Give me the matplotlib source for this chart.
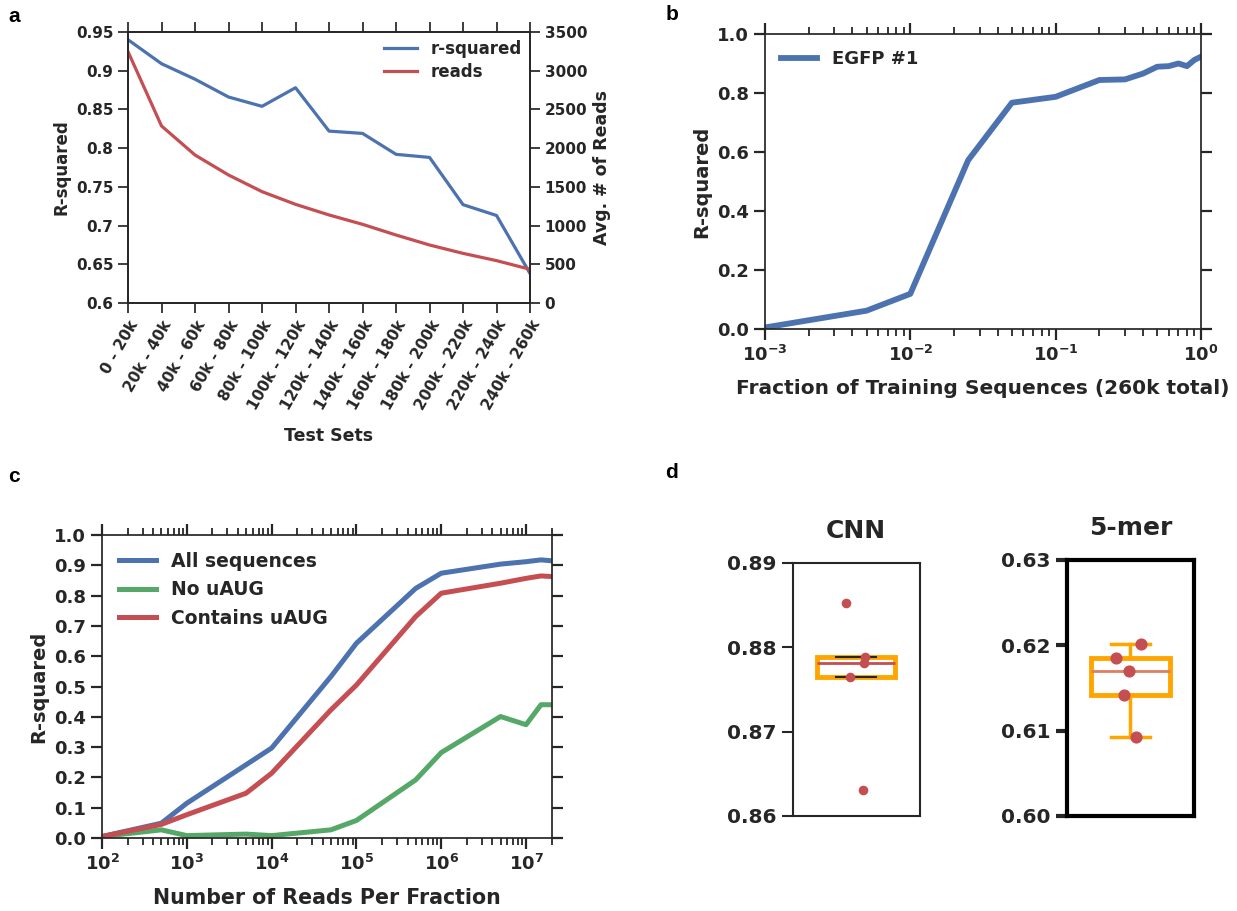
import numpy as np
import matplotlib
matplotlib.use("Agg")
from matplotlib import pyplot as plt
import matplotlib.ticker as mticker

plt.rcParams['font.family'] = 'DejaVu Sans'
plt.rcParams['font.weight'] = 'bold'
plt.rcParams['axes.labelweight'] = 'bold'
plt.rcParams['axes.titleweight'] = 'bold'
plt.rcParams['mathtext.default'] = 'regular'
dark = '#262626'
for k in ['axes.edgecolor', 'xtick.color', 'ytick.color', 'text.color', 'axes.labelcolor']:
    plt.rcParams[k] = dark
plt.rcParams['xtick.direction'] = 'out'
plt.rcParams['ytick.direction'] = 'out'
plt.rcParams['axes.linewidth'] = 1.25

blue = '#4c72b0'
red = '#c44e52'
green = '#55a868'
orange = '#ffa500'

# panel a
test_sets = ['0 - 20k', '20k - 40k', '40k - 60k', '60k - 80k', '80k - 100k',
             '100k - 120k', '120k - 140k', '140k - 160k', '160k - 180k',
             '180k - 200k', '200k - 220k', '220k - 240k', '240k - 260k']
rsq_a = [0.940, 0.909, 0.889, 0.866, 0.854, 0.878, 0.822, 0.819, 0.792,
         0.788, 0.727, 0.713, 0.638]
reads_a = [3245, 2286, 1911, 1653, 1438, 1274, 1137, 1016, 878, 749, 641, 547, 435]

# panel b
frac_b = [0.001, 0.005, 0.01, 0.025, 0.05, 0.1, 0.2, 0.3, 0.4, 0.5, 0.6,
          0.7, 0.8, 0.9, 1.0]
egfp_b = [0.005, 0.062, 0.119, 0.572, 0.767, 0.787, 0.844, 0.846, 0.866,
          0.889, 0.891, 0.900, 0.891, 0.912, 0.923]

# panel c
n_reads = [1e2, 5e2, 1e3, 5e3, 1e4, 5e4, 1e5, 5e5, 1e6, 5e6, 1e7, 1.5e7, 2e7]
all_seq = [0.005, 0.049, 0.115, 0.242, 0.297, 0.533, 0.643, 0.824, 0.874,
           0.904, 0.912, 0.918, 0.915]
no_uaug = [0.005, 0.027, 0.008, 0.013, 0.008, 0.027, 0.058, 0.192, 0.282,
           0.401, 0.374, 0.440, 0.440]
with_uaug = [0.005, 0.045, 0.077, 0.148, 0.214, 0.423, 0.505, 0.731, 0.808,
             0.841, 0.857, 0.865, 0.863]

# panel d
cnn_r2 = [0.88525, 0.8788, 0.8781, 0.87647, 0.8631]
kmer_r2 = [0.62012, 0.61855, 0.6170, 0.61414, 0.6093]
cnn_jitter = [-0.078, 0.067, 0.059, -0.050, 0.053]
kmer_jitter = [0.081, -0.114, -0.012, -0.048, 0.046]

fig = plt.figure(figsize=(12.37, 9.11), dpi=100)

g = mticker.FuncFormatter(lambda v, p: '%g' % v)

# ---- a
ax = fig.add_axes([0.1035, 0.6674, 0.3250, 0.2975])
x = np.arange(len(test_sets))
la, = ax.plot(x, rsq_a, color=blue, lw=2.3, label='r-squared')
ax.set_xlim(0, 12)
ax.set_ylim(0.6, 0.95)
ax.set_yticks(np.arange(0.6, 0.951, 0.05))
ax.yaxis.set_major_formatter(g)
ax.set_xticks(x)
ax.set_xticklabels(test_sets, rotation=60, ha='right', rotation_mode='anchor')
ax.tick_params(top=True, length=7, width=1.25, labelsize=11)
ax.set_ylabel('R-squared', fontsize=12)
ax.set_xlabel('Test Sets', fontsize=12.5, labelpad=10)
ax2 = ax.twinx()
lb, = ax2.plot(x, reads_a, color=red, lw=2.3, label='reads')
ax2.set_ylim(0, 3500)
ax2.set_yticks(np.arange(0, 3501, 500))
ax2.tick_params(length=7, width=1.25, labelsize=11)
ax2.set_ylabel('Avg. # of Reads', fontsize=12.5)
ax2.legend(handles=[la, lb], loc='upper right', frameon=False, fontsize=12,
           handlelength=2.0, labelspacing=0.3, borderaxespad=0.1)

# ---- b
bx = fig.add_axes([0.6184, 0.6389, 0.3525, 0.3238])
bx.plot(frac_b, egfp_b, color=blue, lw=4.2, label='EGFP #1')
bx.set_xscale('log')
bx.set_xlim(1e-3, 1)
bx.set_ylim(0, 1)
bx.set_yticks(np.arange(0, 1.01, 0.2))
bx.tick_params(which='major', top=True, right=True, length=8, width=1.6,
               labelsize=13)
bx.tick_params(which='minor', top=True, length=5, width=1.3)
bx.set_ylabel('R-squared', fontsize=14)
bx.set_xlabel('Fraction of Training Sequences (260k total)', fontsize=14.5,
              labelpad=10)
bx.legend(loc='upper left', frameon=False, fontsize=13, handlelength=2.0)

# ---- c
cx = fig.add_axes([0.0825, 0.0801, 0.3634, 0.3326])
cx.plot(n_reads, all_seq, color=blue, lw=3.6, label='All sequences')
cx.plot(n_reads, no_uaug, color=green, lw=3.6, label='No uAUG')
cx.plot(n_reads, with_uaug, color=red, lw=3.6, label='Contains uAUG')
cx.set_xscale('log')
cx.set_xlim(1e2, 2e7)
cx.set_ylim(0, 1)
cx.set_yticks(np.arange(0, 1.01, 0.1))
cx.tick_params(which='major', top=True, right=True, length=8, width=1.6,
               labelsize=13)
cx.tick_params(which='minor', top=True, length=5, width=1.3)
cx.set_ylabel('R-squared', fontsize=14)
cx.set_xlabel('Number of Reads Per Fraction', fontsize=14.8, labelpad=10)
cx.legend(loc='upper left', frameon=False, fontsize=13.5, handlelength=2.0)


# ---- d
def box_panel(rect, vals, jit, lims, title, spine_w, med_col, cap_col, dot):
    d = fig.add_axes(rect)
    d.boxplot([vals], positions=[0], widths=0.62, showfliers=False,
              patch_artist=True,
              boxprops=dict(facecolor='white', edgecolor=orange, linewidth=3.5),
              medianprops=dict(color=med_col, linewidth=2),
              whiskerprops=dict(color=orange, linewidth=2.5),
              capprops=dict(color=cap_col, linewidth=1.5 if cap_col != orange else 2.5))
    d.scatter(np.array(jit), vals, s=dot, color=red, zorder=5)
    d.set_xlim(-0.5, 0.5)
    d.set_ylim(*lims)
    d.set_yticks(np.linspace(lims[0], lims[1], 4))
    d.yaxis.set_major_formatter(mticker.FormatStrFormatter('%.2f'))
    d.set_xticks([])
    d.tick_params(axis='y', length=8, width=spine_w, labelsize=14.5)
    for s in d.spines.values():
        s.set_linewidth(spine_w)
    d.set_title(title, fontsize=18, pad=18)
    return d


d1 = box_panel([0.6407, 0.1043, 0.1027, 0.2777], cnn_r2, cnn_jitter,
               (0.86, 0.89), 'CNN', 1.5, red, dark, 35)
d2 = box_panel([0.8622, 0.1043, 0.1031, 0.2810], kmer_r2, kmer_jitter,
               (0.60, 0.63), '5-mer', 3, '#dd8060', orange, 60)
for s in d2.spines.values():
    s.set_color('black')

# panel letters
for lab, px, py in [('a', 14, 16), ('b', 672, 15), ('c', 14, 476), ('d', 672, 472)]:
    fig.text(px / 1237, 1 - py / 911, lab, fontsize=15, fontweight='bold',
             family='Liberation Sans', color='black', va='center', ha='center')

fig.savefig('out.png', dpi=100)
